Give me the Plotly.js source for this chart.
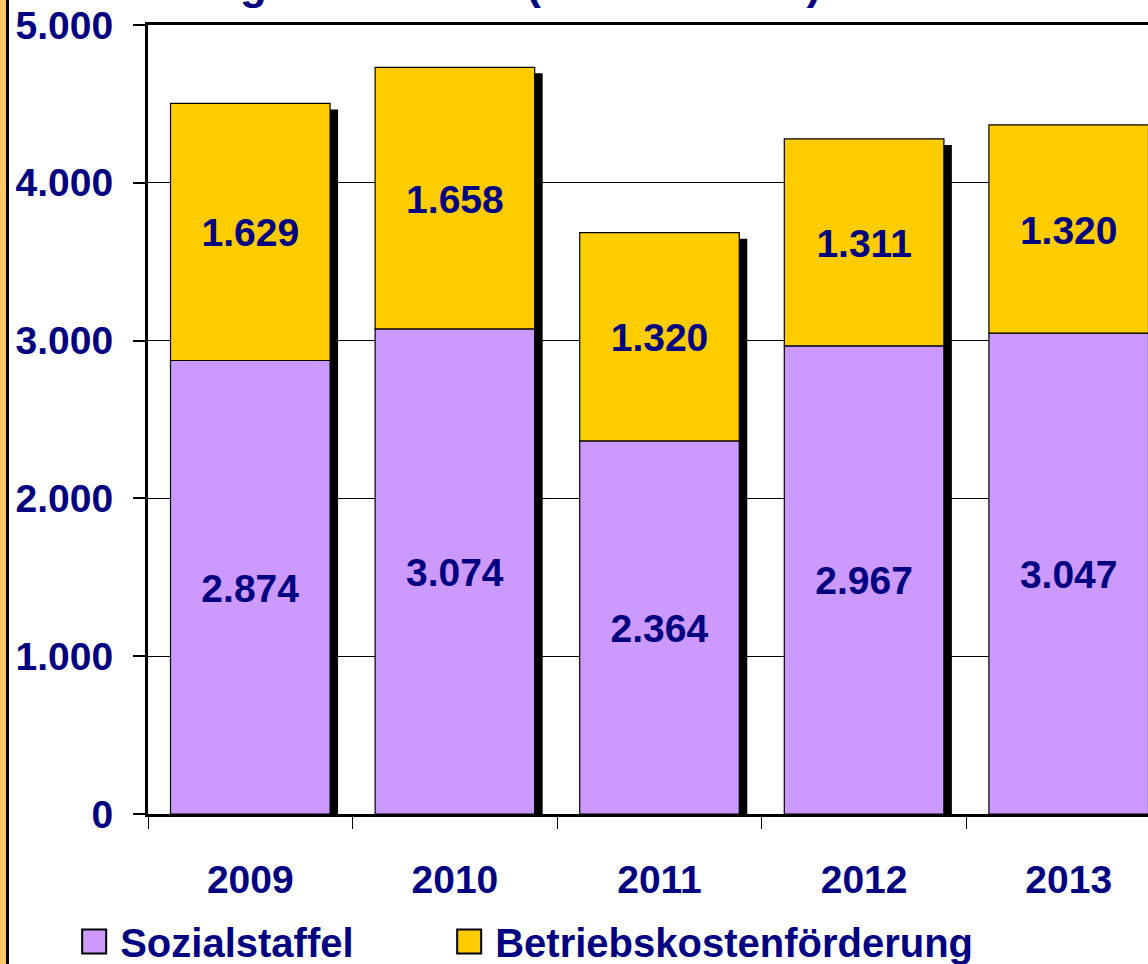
<!DOCTYPE html>
<html>
<head>
<meta charset="utf-8">
<script src="https://cdn.plot.ly/plotly-3.0.1.min.js"></script>
<style>
  html, body { margin: 0; padding: 0; overflow: hidden; background: #ffffff; width: 1148px; height: 964px; }
  #chart { position: absolute; left: 0; top: 0; width: 1171px; height: 964px; }
  #stripe1 { position: absolute; left: 0; top: 0; width: 6px; height: 964px; background: #FFC966; z-index: 5; }
  #stripe2 { position: absolute; left: 6px; top: 0; width: 3px; height: 964px; background: #000000; z-index: 5; }
</style>
</head>
<body>
<div id="chart"></div>
<div id="stripe1"></div>
<div id="stripe2"></div>
<script>
// ---- data ----
const years = ['2009', '2010', '2011', '2012', '2013'];
const sozialstaffel = [2874, 3074, 2364, 2967, 3047];
const betriebskosten = [1629, 1658, 1320, 1311, 1320];
const seriesNames = ['Sozialstaffel', 'Betriebskostenförderung'];
const yTicks = [0, 1000, 2000, 3000, 4000, 5000];
const titleText = 'Förderung 2009 - 2013 (in Tausend €)';

const totals = sozialstaffel.map((v, i) => v + betriebskosten[i]);

const NAVY = '#000080';
const FONT = 'Liberation Sans, Arial, Helvetica, sans-serif';
const BAR_W = 0.78;

const shadow = {
  type: 'bar', x: years, y: totals, base: -38,
  width: BAR_W, offset: -BAR_W / 2 + 0.039,
  marker: { color: '#000000', line: { width: 0 } },
  showlegend: false, hoverinfo: 'skip'
};

const textFont = { family: FONT, size: 39, color: NAVY, weight: 'bold' };

const sozial = {
  type: 'bar', name: seriesNames[0], x: years, y: sozialstaffel,
  width: BAR_W,
  marker: { color: '#CC99FF', line: { color: '#000000', width: 1.2 } },
  texttemplate: '%{y:,d}', textposition: 'inside', insidetextanchor: 'middle',
  textangle: 0, constraintext: 'none', insidetextfont: textFont
};

const betrieb = {
  type: 'bar', name: seriesNames[1], x: years, y: betriebskosten, base: sozialstaffel,
  width: BAR_W,
  marker: { color: '#FFCC00', line: { color: '#000000', width: 1.2 } },
  texttemplate: '%{y:,d}', textposition: 'inside', insidetextanchor: 'middle',
  textangle: 0, constraintext: 'none', insidetextfont: textFont
};

const tickFont = { family: FONT, size: 39, color: NAVY, weight: 'bold' };

const layout = {
  width: 1171, height: 964,
  margin: { l: 148, r: 0, t: 25, b: 150, autoexpand: false },
  paper_bgcolor: '#ffffff', plot_bgcolor: '#ffffff',
  separators: ',.',
  barmode: 'overlay',
  showlegend: true,
  font: { family: FONT, color: NAVY },
  xaxis: {
    type: 'category', range: [-0.5, 4.5], automargin: false,
    showline: true, linecolor: '#000000', linewidth: 3, mirror: true,
    ticks: 'outside', tickson: 'boundaries', ticklen: 12, tickwidth: 1, tickcolor: '#000000',
    tickfont: tickFont, ticklabelstandoff: 29,
    showgrid: false, zeroline: false, fixedrange: true
  },
  yaxis: {
    range: [0, 5000], tickvals: yTicks, tickformat: ',d', automargin: false,
    showline: true, linecolor: '#000000', linewidth: 3, mirror: true,
    ticks: 'outside', ticklen: 12, tickwidth: 2, tickcolor: '#000000',
    tickfont: tickFont, ticklabelstandoff: 12,
    showgrid: true, gridcolor: '#000000', gridwidth: 1,
    zeroline: false, fixedrange: true
  },
  legend: {
    orientation: 'h', x: -0.0663, xanchor: 'left', y: -0.1616, yanchor: 'middle',
    font: { family: FONT, size: 40, color: NAVY, weight: 'bold' },
    entrywidth: 330, traceorder: 'normal', bgcolor: 'rgba(0,0,0,0)'
  },
  annotations: [{
    text: titleText, xref: 'paper', yref: 'paper',
    x: -0.1007, xanchor: 'left', y: 1.053, yanchor: 'middle',
    showarrow: false,
    font: { family: FONT, size: 44, color: NAVY, weight: 'bold' }
  }]
};

Plotly.newPlot('chart', [shadow, sozial, betrieb], layout, { staticPlot: true, displayModeBar: false })
  .then(() => {
    document.querySelectorAll('.legend [clip-path]').forEach(e => e.removeAttribute('clip-path'));
    document.querySelectorAll('.legend .legendpoints path').forEach(p => {
      const t = p.getAttribute('transform') || '';
      p.setAttribute('transform', 'translate(-6,0) ' + t + ' scale(2)');
      p.style.strokeWidth = '1px';
    });
    document.querySelectorAll('.bars .bartext').forEach(t => {
      const tr = t.getAttribute('transform') || '';
      t.setAttribute('transform', 'translate(0,1) ' + tr);
    });
  });
</script>
</body>
</html>
